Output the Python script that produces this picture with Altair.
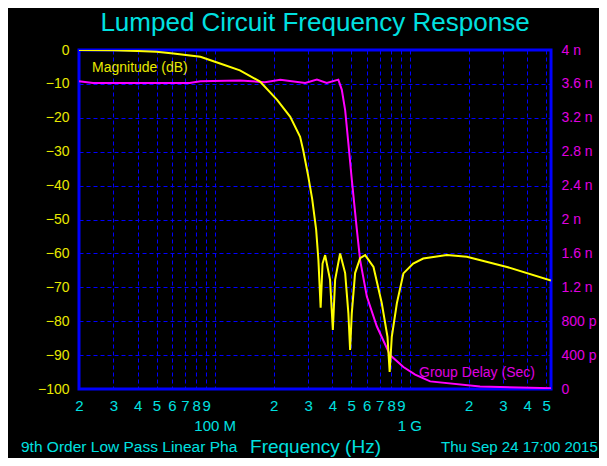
import altair as alt
import pandas as pd

# ---- data ----
mag_freq_mhz = [20, 30, 40, 50, 61, 84, 106, 134, 170, 208, 243, 273, 283, 300, 315,
                330, 339, 348, 356, 367, 389, 402, 413, 438, 465, 483, 493, 503, 523,
                555, 589, 650, 717, 767, 787, 807, 857, 926, 1039, 1170, 1547, 1960,
                3150, 5300]
mag_db = [0, -0.1, -0.3, -0.5, -1.0, -2.0, -4.0, -6.0, -9.3, -14.7, -19.7, -25.6, -29.5,
          -37, -44, -53, -62, -76, -63, -60.5, -67.8, -82.6, -67.8, -60, -65.8, -77.6,
          -88.5, -77.6, -65.8, -61.4, -60.5, -64, -74.7, -84.6, -95, -84.6, -74.7,
          -65.9, -63, -61.5, -60.5, -61, -64, -68]

gd_freq_mhz = [20, 23.6, 74, 84, 134, 180, 216, 290, 333, 374, 429, 447, 465, 483, 503,
               534, 555, 601, 676, 791, 926, 1064, 1270, 2290, 5300]
gd_ns = [3.63, 3.61, 3.61, 3.63, 3.64, 3.62, 3.65, 3.61, 3.65, 3.61, 3.65, 3.53, 3.29,
         2.90, 2.47, 1.88, 1.52, 1.09, 0.74, 0.40, 0.26, 0.17, 0.09, 0.03, 0.01]

x_tick_mhz = [20, 30, 40, 50, 60, 70, 80, 90, 100, 200, 300, 400, 500, 600, 700, 800,
              900, 1000, 2000, 3000, 4000, 5000]
decade_label_mhz = [100, 1000]
decade_labels = ["100 M", "1 G"]
y_ticks_db = [0, -10, -20, -30, -40, -50, -60, -70, -80, -90, -100]
gd_ticks_ns = [0, 0.4, 0.8, 1.2, 1.6, 2.0, 2.4, 2.8, 3.2, 3.6, 4.0]

title_text = "Lumped Circuit Frequency Response"
x_title = "Frequency (Hz)"
footer_left = "9th Order Low Pass Linear Phase"
footer_right = "Thu Sep 24 17:00 2015"
mag_label = "Magnitude (dB)"
gd_label = "Group Delay (Sec)"

FONT = "Liberation Sans, Arial, sans-serif"
CYAN = "#00E0E0"
YEL = "#FFFF00"
YEL_T = "#E8E800"
MAG = "#FF00FF"
MAG_T = "#E000E0"
BLUE = "#0000FF"

W, H = 472, 339

mag_df = pd.DataFrame({"f": mag_freq_mhz, "v": mag_db})
gd_df = pd.DataFrame({"f": gd_freq_mhz, "v": gd_ns})
dec_df = pd.DataFrame({"f": decade_label_mhz, "t": decade_labels})

xscale = alt.Scale(type="log", domain=[20, 5300], nice=False)

x_axis = alt.Axis(
    values=x_tick_mhz,
    labelExpr="(datum.value == 100 || datum.value == 1000) ? '' : substring(format(datum.value, '.0e'), 0, 1)",
    labelColor=CYAN, labelFont=FONT, labelFontSize=15, labelPadding=9,
    labelFlush=False, labelOverlap=False, ticks=False, domain=False,
    grid=True, gridColor=BLUE, gridDash=[4, 3], gridWidth=1, gridOpacity=1,
    title=x_title, titleColor=CYAN, titleFont=FONT, titleFontSize=19,
    titleFontWeight="normal", titleBaseline="middle", titleY=57,
)

left_axis = alt.Axis(
    orient="left", values=y_ticks_db, format="d",
    labelColor=YEL_T, labelFont=FONT, labelFontSize=14, labelPadding=10,
    ticks=False, domain=False,
    grid=True, gridColor=BLUE, gridDash=[4, 3], gridWidth=1, gridOpacity=1,
    title=None,
)

right_axis = alt.Axis(
    orient="right", values=gd_ticks_ns,
    labelExpr="datum.value == 0 ? '0' : (datum.value < 1 ? format(datum.value * 1000, '.0f') + ' p' : format(datum.value, '.1~f') + ' n')",
    labelColor=MAG_T, labelFont=FONT, labelFontSize=14, labelPadding=10,
    ticks=False, domain=False, grid=False, title=None,
)

mag_line = alt.Chart(mag_df).mark_line(color=YEL, strokeWidth=2, clip=True).encode(
    x=alt.X("f:Q", scale=xscale, axis=x_axis),
    y=alt.Y("v:Q", scale=alt.Scale(domain=[-100, 0], nice=False), axis=left_axis),
)

dec_text = alt.Chart(dec_df).mark_text(
    color=CYAN, font=FONT, fontSize=15, baseline="middle", align="center"
).encode(x=alt.X("f:Q", scale=xscale), y=alt.value(H + 37), text="t:N")

mag_lab = alt.Chart(pd.DataFrame({"t": [mag_label]})).mark_text(
    color=YEL_T, font=FONT, fontSize=14, align="left", baseline="middle"
).encode(x=alt.value(13), y=alt.value(18), text="t:N")

foot_l = alt.Chart(pd.DataFrame({"t": [footer_left]})).mark_text(
    color=CYAN, font=FONT, fontSize=15.5, align="left", baseline="middle",
    limit=222, ellipsis="\u200b"
).encode(x=alt.value(-58), y=alt.value(H + 58), text="t:N")

foot_r = alt.Chart(pd.DataFrame({"t": [footer_right]})).mark_text(
    color=CYAN, font=FONT, fontSize=15, align="left", baseline="middle"
).encode(x=alt.value(362), y=alt.value(H + 58), text="t:N")

gd_line = alt.Chart(gd_df).mark_line(color=MAG, strokeWidth=2, clip=True).encode(
    x=alt.X("f:Q", scale=xscale),
    y=alt.Y("v:Q", scale=alt.Scale(domain=[0, 4], nice=False), axis=right_axis),
)

gd_lab = alt.Chart(pd.DataFrame({"t": [gd_label]})).mark_text(
    color=MAG_T, font=FONT, fontSize=14, align="left", baseline="middle"
).encode(x=alt.value(340), y=alt.value(323), text="t:N")

left_group = alt.layer(mag_line, dec_text, mag_lab, foot_l, foot_r)
right_group = alt.layer(gd_line, gd_lab)

chart = alt.layer(right_group, left_group).resolve_scale(y="independent").properties(
    width=W, height=H,
    padding={"left": 71, "top": 42, "right": 48, "bottom": 69},
    autosize=alt.AutoSizeParams(type="none"),
    background="black",
    title=alt.TitleParams(title_text, color=CYAN, font=FONT, fontSize=26,
                          fontWeight="normal", anchor="middle", offset=7),
).configure_view(stroke=BLUE, strokeWidth=3)

chart.save("out.html", embed_options={"renderer": "svg", "actions": False})
